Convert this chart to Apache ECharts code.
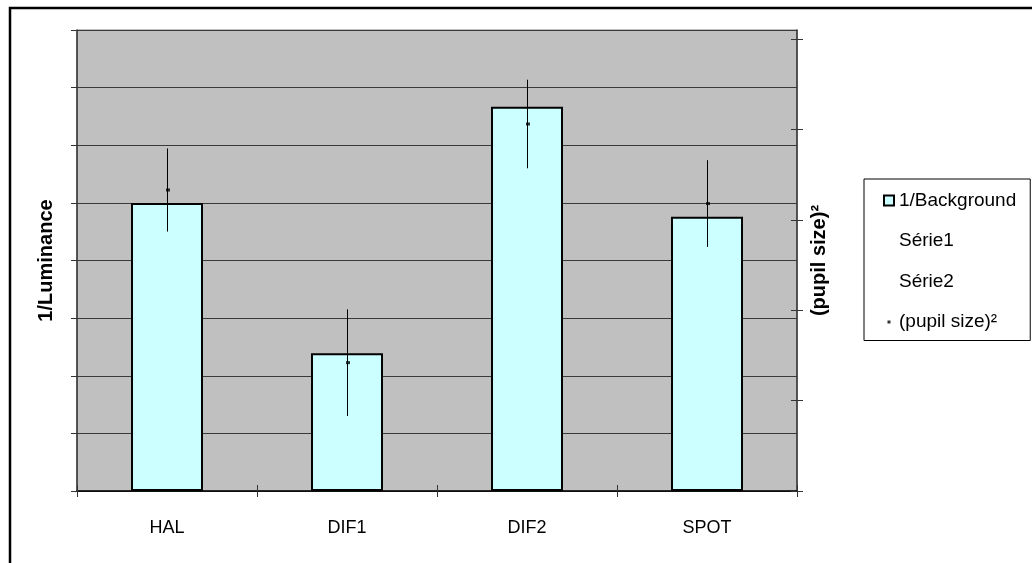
<!DOCTYPE html>
<html>
<head>
<meta charset="utf-8">
<script src="https://cdn.jsdelivr.net/npm/echarts@6/dist/echarts.min.js"></script>
<style>
html,body{margin:0;padding:0;background:#fff;}
#chart{width:1032px;height:563px;}
</style>
</head>
<body>
<div id="chart"></div>
<script>
const categories = ['HAL', 'DIF1', 'DIF2', 'SPOT'];
const background = [5.0, 2.39, 6.67, 4.76];
const pupil = [3.33, 1.42, 4.06, 3.18];
const pupilErr = [0.46, 0.59, 0.49, 0.48];
const rightTicks = [0, 1, 2, 3, 4, 5];

const FONT = "'Liberation Sans', Arial, sans-serif";
const chart = echarts.init(document.getElementById('chart'), null, {renderer: 'canvas'});

const upper = categories.map((c, i) => [i, pupil[i], pupil[i] + pupilErr[i]]);
const lower = categories.map((c, i) => [i, pupil[i] - pupilErr[i], pupil[i]]);

function errRender(params, api) {
  const p1 = api.coord([api.value(0), api.value(1)]);
  const p2 = api.coord([api.value(0), api.value(2)]);
  const x = Math.round(p1[0]) + 0.5;
  return {
    type: 'line',
    shape: {x1: x, y1: p1[1], x2: x, y2: p2[1]},
    style: {stroke: '#000', lineWidth: 1}
  };
}

const option = {
  animation: false,
  backgroundColor: '#fff',
  textStyle: {fontFamily: FONT},
  graphic: [{
    type: 'rect', z: 100, silent: true,
    shape: {x: 10, y: 8, width: 1100, height: 700},
    style: {fill: 'none', stroke: '#000', lineWidth: 2.5}
  }],
  grid: {
    left: 77, right: 235, top: 30, bottom: 72,
    show: true, backgroundColor: '#c0c0c0', borderColor: '#808080', borderWidth: 1
  },
  legend: {
    orient: 'vertical',
    left: 864, top: 179,
    backgroundColor: '#fff',
    borderColor: '#000', borderWidth: 1,
    padding: [12, 14, 9, 19],
    itemWidth: 10, itemHeight: 10,
    itemGap: 21.5,
    textStyle: {fontFamily: FONT, fontSize: 19, color: '#000'},
    data: [
      {name: '1/Background', icon: 'rect'},
      {name: 'Série1', icon: 'none'},
      {name: 'Série2', icon: 'none'},
      {name: '(pupil size)²', icon: 'path://M0,0h0.01v0.01h-0.01z M10,10h0.01v0.01h-0.01z M3.5,3.5h3v3h-3z'}
    ]
  },
  xAxis: [{
    type: 'category',
    data: categories,
    axisLine: {lineStyle: {color: '#000', width: 1.5}},
    axisTick: {show: true, length: 6, lineStyle: {color: '#333'}},
    axisLabel: {color: '#000', fontSize: 18, fontFamily: FONT, margin: 28}
  }, {
    type: 'category',
    data: categories,
    position: 'bottom',
    axisLine: {show: false},
    axisTick: {show: true, inside: true, length: 6, lineStyle: {color: '#333'}},
    axisLabel: {show: false}
  }],
  yAxis: [{
    type: 'value',
    min: 0, max: 8, interval: 1,
    position: 'left',
    name: '1/Luminance',
    nameLocation: 'middle',
    nameRotate: 90,
    nameGap: 21,
    nameTextStyle: {fontFamily: FONT, fontSize: 20, fontWeight: 'bold', color: '#000'},
    axisLine: {show: true, lineStyle: {color: '#333', width: 1.5}},
    axisTick: {show: true, length: 6, lineStyle: {color: '#333'}},
    axisLabel: {show: false},
    splitLine: {show: true, lineStyle: {color: '#3a3a3a', width: 1}}
  }, {
    type: 'value',
    min: 0, max: 5.1,
    position: 'right',
    name: '(pupil size)²',
    nameLocation: 'middle',
    nameRotate: 90,
    nameGap: 12,
    nameTextStyle: {fontFamily: FONT, fontSize: 20, fontWeight: 'bold', color: '#000'},
    axisLine: {show: true, lineStyle: {color: '#333', width: 1.5}},
    axisTick: {show: true, length: 6, customValues: rightTicks, lineStyle: {color: '#333'}},
    axisLabel: {show: false},
    splitLine: {show: false}
  }, {
    type: 'value',
    min: 0, max: 5.1,
    position: 'right',
    offset: 0,
    axisLine: {show: false},
    axisTick: {show: true, inside: true, length: 6, customValues: rightTicks, lineStyle: {color: '#333'}},
    axisLabel: {show: false},
    splitLine: {show: false}
  }],
  series: [{
    name: '1/Background',
    type: 'bar',
    yAxisIndex: 0,
    data: background,
    barCategoryGap: '60%',
    itemStyle: {color: '#ccffff', borderColor: '#000', borderWidth: 2}
  }, {
    name: 'Série1',
    type: 'custom',
    yAxisIndex: 1,
    data: upper,
    renderItem: errRender,
    itemStyle: {color: '#000'},
    z: 5
  }, {
    name: 'Série2',
    type: 'custom',
    yAxisIndex: 1,
    data: lower,
    renderItem: errRender,
    itemStyle: {color: '#000'},
    z: 5
  }, {
    name: '(pupil size)²',
    type: 'scatter',
    yAxisIndex: 1,
    data: pupil,
    symbol: 'rect',
    symbolSize: [4, 3],
    symbolOffset: [1, 0],
    itemStyle: {color: '#000'},
    z: 6
  }]
};
chart.setOption(option);
</script>
</body>
</html>
